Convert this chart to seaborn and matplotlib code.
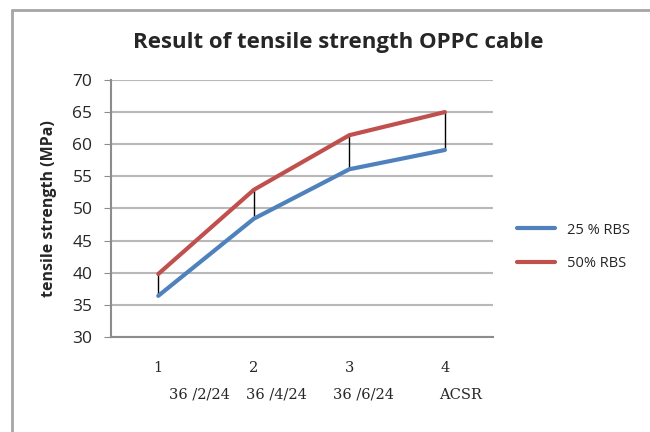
import matplotlib
matplotlib.use("Agg")
import matplotlib.pyplot as plt
import seaborn as sns
import pandas as pd
from matplotlib.lines import Line2D

# ================================
# DATA
# ================================
positions = [1, 2, 3, 4]
cable_names = ["36 /2/24", "36 /4/24", "36 /6/24", "ACSR"]
rbs25 = [36.4, 48.4, 56.1, 59.1]
rbs50 = [39.8, 52.9, 61.4, 65.0]

df = pd.DataFrame({
    "pos": positions * 2,
    "strength": rbs25 + rbs50,
    "series": ["25 % RBS"] * 4 + ["50% RBS"] * 4,
})

# ================================
# STYLE
# ================================
sns.set_style("white")
plt.rcParams["font.family"] = ["Open Sans", "DejaVu Sans"]

blue = "#4F81BD"
red = "#C0504D"
grid_col = "#B8B8B8"
axis_col = "#8C8C8C"

fig = plt.figure(figsize=(6.5, 4.32), dpi=100)
ax = fig.add_axes([0.170, 0.220, 0.588, 0.595])

# high-low lines between the two series
ax.vlines(positions, rbs25, rbs50, color="black", linewidth=1, zorder=2)

sns.lineplot(data=df, x="pos", y="strength", hue="series",
             palette=[blue, red], linewidth=3, ax=ax, zorder=3)

ax.set_xlim(0.5, 4.5)
ax.set_ylim(30, 70)
ax.set_yticks(range(30, 71, 5))
ax.set_xticks(positions)
ax.set_xticklabels([str(p) for p in positions], family="DejaVu Serif",
                   fontsize=10.5)
ax.tick_params(axis="y", labelsize=12.5, length=5, color=axis_col,
               labelcolor="#262626", left=True, pad=8)
ax.tick_params(axis="x", length=0, pad=17)
ax.yaxis.grid(True, color=grid_col, linewidth=1.5)
ax.set_axisbelow(True)

for side in ["top", "right"]:
    ax.spines[side].set_visible(False)
for side in ["left", "bottom"]:
    ax.spines[side].set_color(axis_col)
    ax.spines[side].set_linewidth(1.5)

ax.set_xlabel("")
ax.set_ylabel("tensile strength (MPa)", fontsize=11.5, fontweight="bold",
              labelpad=11)

# second row of category names
offsets = [0.43, 0.24, 0.15, 0.16]
for p, name, off in zip(positions, cable_names, offsets):
    ax.text(p + off, -0.225, name, transform=ax.get_xaxis_transform(),
            ha="center", va="center", family="DejaVu Serif", fontsize=10.5)

fig.suptitle("Result of tensile strength OPPC cable", fontsize=16,
             fontweight="bold", x=0.521, y=0.925)

leg = ax.legend(loc="center left", bbox_to_anchor=(1.03, 0.35), frameon=False,
                fontsize=10.5, handlelength=2.6, labelspacing=1.3)
for h in leg.get_lines():
    h.set_linewidth(3)

# chart border (top and left edges)
fig.add_artist(Line2D([0.018, 1.0], [0.977, 0.977], color="#A6A6A6",
                      linewidth=2, transform=fig.transFigure))
fig.add_artist(Line2D([0.018, 0.018], [0.0, 0.977], color="#A6A6A6",
                      linewidth=2, transform=fig.transFigure))

fig.savefig("out.png", dpi=100)
